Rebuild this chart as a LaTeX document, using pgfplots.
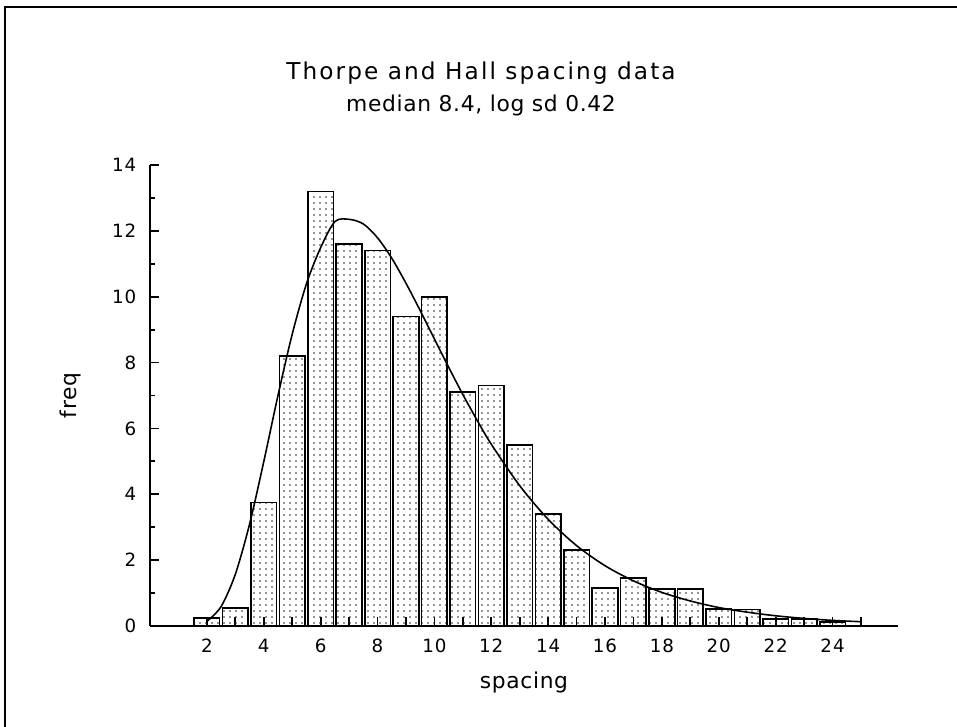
\documentclass[border=0pt]{standalone}
\usepackage{fontspec}
\usepackage{pgfplots}
\pgfplotsset{compat=1.18}
\usetikzlibrary{patterns.meta}
\setmainfont{DejaVu Sans}
\newfontfamily\titlefont[LetterSpace=9]{DejaVu Sans}
\newfontfamily\subfont[LetterSpace=3]{DejaVu Sans}
\newfontfamily\tickfont[LetterSpace=5]{DejaVu Sans}
\newfontfamily\labelfont[LetterSpace=3]{DejaVu Sans}

% sparse dot fill of the bars
\pgfdeclarepattern{
  name=sparsedots, type=uncolored,
  bottom left={\pgfpoint{0pt}{0pt}}, top right={\pgfpoint{1.7pt}{1.7pt}},
  tile size={\pgfpoint{1.7pt}{1.7pt}},
  code={\pgfpathcircle{\pgfpoint{0.85pt}{0.85pt}}{0.27pt}\pgfusepath{fill}}
}

\begin{document}
\begin{tikzpicture}
\path[use as bounding box] (0,0) rectangle (9.57,7.27);
\draw[line width=0.6pt] (0.05,0) -- (0.05,7.20) -- (9.57,7.20);

\node[font=\titlefont\fontsize{6.6}{7}\selectfont, anchor=base] at (4.81,6.47) {Thorpe and Hall spacing data};
\node[font=\subfont\fontsize{6.2}{7}\selectfont, anchor=base] at (4.81,6.15) {median 8.4, log sd 0.42};

\begin{axis}[
  at={(1.5cm,1.01cm)}, anchor=south west,
  scale only axis, width=7.48cm, height=4.61cm,
  xmin=0, xmax=26.3, ymin=0, ymax=14,
  axis lines*=left,
  axis line style={line width=0.6pt},
  tick align=inside,
  tick style={line width=0.5pt, black},
  major tick length=2.5pt, minor tick length=1.5pt,
  xtick={2,3,...,25},
  xticklabels={2,,4,,6,,8,,10,,12,,14,,16,,18,,20,,22,,24,},
  ytick={0,2,...,14}, minor ytick={1,3,...,13},
  /pgf/number format/assume math mode=true,
  xticklabel style={font=\tickfont\fontsize{5.2}{6}\selectfont, anchor=base, inner sep=0pt, yshift=-0.27cm},
  yticklabel style={font=\tickfont\fontsize{5.2}{6}\selectfont, anchor=east, inner sep=0pt, xshift=-0.13cm},
  xlabel={spacing}, ylabel={freq},
  every axis x label/.style={at={(axis description cs:0.5,-0.1345)}, anchor=base,
    font=\labelfont\fontsize{6.2}{7}\selectfont},
  every axis y label/.style={at={(axis description cs:-0.0976,0.5)}, rotate=90, anchor=base,
    font=\labelfont\fontsize{6.2}{7}\selectfont},
]
\addplot[ybar, bar width=0.9, draw=black, line width=0.45pt,
  pattern=sparsedots, pattern color=black!85] coordinates {
  (2,0.25) (3,0.55) (4,3.75) (5,8.2) (6,13.2) (7,11.6) (8,11.4) (9,9.4)
  (10,10.0) (11,7.1) (12,7.3) (13,5.5) (14,3.4) (15,2.3) (16,1.15)
  (17,1.45) (18,1.12) (19,1.12) (20,0.52) (21,0.5) (22,0.22) (23,0.22)
  (24,0.12)
};
\addplot[smooth, no marks, black, line width=0.45pt] coordinates {
  (2,0.14) (2.5,0.59) (3,1.57) (3.5,3.09) (4,4.99) (4.5,7.00) (5,8.86)
  (5.5,10.39) (6,11.49) (6.5,12.28) (7,12.35) (7.5,12.21) (8,11.79)
  (8.5,11.17) (9,10.41) (9.5,9.58) (10,8.72) (10.5,7.86) (11,7.03)
  (11.5,6.25) (12,5.52) (13,4.26) (14,3.24) (15,2.44) (16,1.83) (17,1.37)
  (18,1.02) (19,0.76) (20,0.56) (21,0.42) (22,0.31) (23,0.23) (24,0.17)
  (25,0.13)
};
\end{axis}
\end{tikzpicture}
\end{document}
